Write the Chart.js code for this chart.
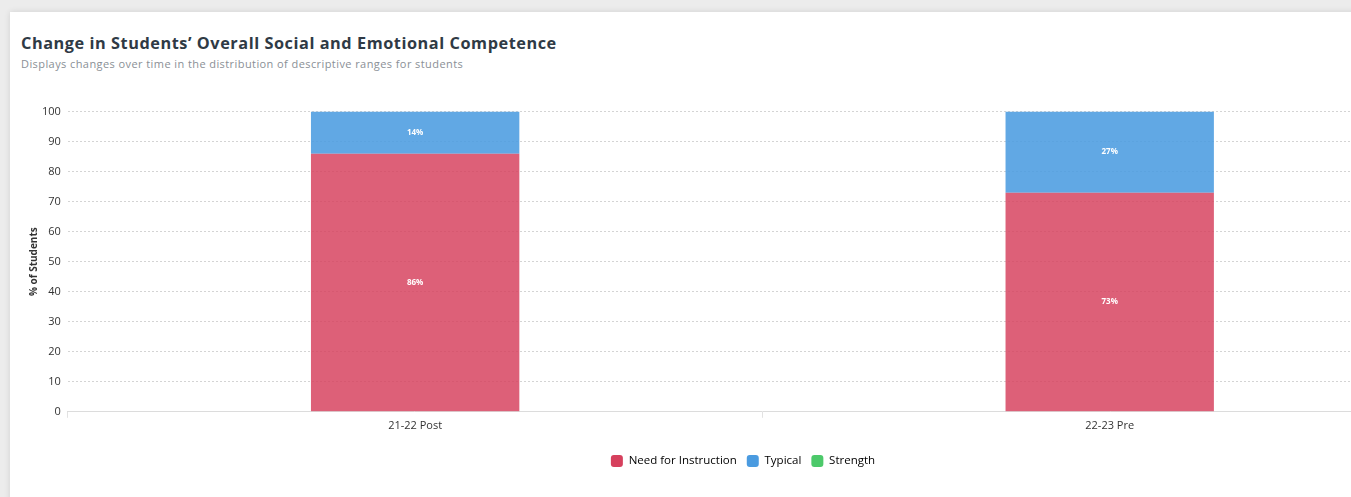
<!DOCTYPE html>
<html>
<head>
<meta charset="utf-8">
<script src="https://cdn.jsdelivr.net/npm/chart.js@4"></script>
<style>
  html, body { margin: 0; padding: 0; background: #ececec; overflow: hidden; width: 1351px; height: 497px; }
  .card { position: absolute; left: 10px; top: 12px; width: 1480px; height: 500px; background: #fff;
          box-shadow: 0 0 6px rgba(0,0,0,.12); font-family: "Open Sans", sans-serif; }
  .card h2 { position: absolute; left: 11px; top: 20px; margin: 0; font-size: 16.3px; font-weight: 700; color: #2f3a45; letter-spacing: .55px; }
  .card .sub { position: absolute; left: 11px; top: 44px; font-size: 11px; color: #8a8f96; letter-spacing: .42px; }
  .chart-wrap { position: absolute; left: 0; top: 86px; width: 1455px; height: 385px; }
</style>
</head>
<body>
<div class="card">
  <h2>Change in Students’ Overall Social and Emotional Competence</h2>
  <div class="sub">Displays changes over time in the distribution of descriptive ranges for students</div>
  <div class="chart-wrap"><canvas id="sel-chart"></canvas></div>
</div>
<script>
// ── data ─────────────────────────────────────────────
const periods     = ['21-22 Post', '22-23 Pre'];
const needInstr   = [86, 73];
const typical     = [14, 27];
const strength    = [0, 0];
const yTicks      = [0, 10, 20, 30, 40, 50, 60, 70, 80, 90, 100];

const barColors    = { need: 'rgba(214,64,93,0.83)', typ: 'rgba(74,155,224,0.87)', str: 'rgba(76,201,106,0.85)' };
const legendColors = { need: '#d6405d', typ: '#4a9be0', str: '#4cc96a' };
const FONT = '"Open Sans", sans-serif';

// white % labels centred in each segment (no datalabels plugin offline)
const segLabels = {
  id: 'segLabels',
  afterDatasetsDraw(chart) {
    const ctx = chart.ctx;
    ctx.save();
    ctx.fillStyle = '#fff';
    ctx.font = 'bold 8px ' + FONT;
    ctx.textAlign = 'center';
    ctx.textBaseline = 'middle';
    chart.data.datasets.forEach((ds, i) => {
      chart.getDatasetMeta(i).data.forEach((bar, j) => {
        const v = ds.data[j];
        if (!v) return;
        ctx.fillText(v + '%', bar.x, (bar.y + bar.base) / 2);
      });
    });
    ctx.restore();
  }
};

// legend sits centred on the full card, a little right of the plot centre
const legendShift = {
  id: 'legendShift',
  afterLayout(chart) { chart.legend.left += 8; chart.legend.right += 8; }
};

new Chart(document.getElementById('sel-chart'), {
  type: 'bar',
  data: { labels: periods, datasets: [
    { label: 'Need for Instruction', data: needInstr, backgroundColor: barColors.need, _legend: legendColors.need },
    { label: 'Typical', data: typical, backgroundColor: barColors.typ, _legend: legendColors.typ },
    { label: 'Strength', data: strength, backgroundColor: barColors.str, _legend: legendColors.str }
  ] },
  options: {
    responsive: true, maintainAspectRatio: false, animation: false,
    datasets: { bar: { barPercentage: 0.6, categoryPercentage: 0.5 } },
    layout: { padding: { top: 12, left: 3, right: 8, bottom: 6 } },
    plugins: {
      tooltip: { enabled: false },
      legend: {
        position: 'bottom',
        labels: {
          font: { family: FONT, size: 11.5 }, color: '#333',
          boxWidth: 12, boxHeight: 12, padding: 10, useBorderRadius: true, borderRadius: 3,
          generateLabels: chart => chart.data.datasets.map((ds, i) => ({
            text: ds.label, fillStyle: ds._legend, strokeStyle: ds._legend, lineWidth: 0,
            borderRadius: 3, datasetIndex: i, hidden: false
          }))
        }
      }
    },
    scales: {
      x: {
        stacked: true,
        afterFit: s => { s.height += 12; },
        grid: { drawOnChartArea: false, color: '#e2e2e2', tickLength: 6 },
        border: { color: '#dcdcdc' },
        ticks: { font: { family: FONT, size: 11 }, color: '#333', padding: 1 }
      },
      y: {
        stacked: true, min: 0, max: 100,
        afterBuildTicks: axis => { axis.ticks = yTicks.map(v => ({ value: v })); },
        grid: { color: '#d4d4d4', drawTicks: false },
        border: { display: false, dash: [2, 2] },
        ticks: { font: { family: FONT, size: 11 }, color: '#333', padding: 7 },
        title: { display: true, text: '% of Students', font: { family: FONT, size: 10, weight: 'bold' }, color: '#333', padding: { top: 15, bottom: -5 } }
      }
    }
  },
  plugins: [segLabels, legendShift]
});
</script>
</body>
</html>
